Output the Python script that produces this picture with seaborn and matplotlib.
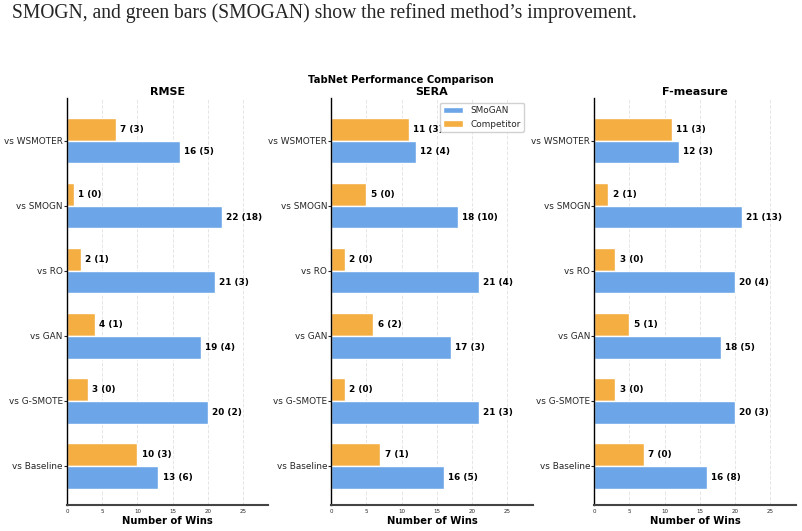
import pandas as pd
import numpy as np
import matplotlib
matplotlib.use('Agg')
import matplotlib.pyplot as plt
import seaborn as sns

opponents = ['vs WSMOTER', 'vs SMOGN', 'vs RO', 'vs GAN', 'vs G-SMOTE', 'vs Baseline']
metrics = ['RMSE', 'SERA', 'F-measure']

# wins (significant wins in brackets)
rmse_smogan = [16, 22, 21, 19, 20, 13]
rmse_smogan_sig = [5, 18, 3, 4, 2, 6]
rmse_comp = [7, 1, 2, 4, 3, 10]
rmse_comp_sig = [3, 0, 1, 1, 0, 3]

sera_smogan = [12, 18, 21, 17, 21, 16]
sera_smogan_sig = [4, 10, 4, 3, 3, 5]
sera_comp = [11, 5, 2, 6, 2, 7]
sera_comp_sig = [3, 0, 0, 2, 0, 1]

fm_smogan = [12, 21, 20, 18, 20, 16]
fm_smogan_sig = [3, 13, 4, 5, 3, 8]
fm_comp = [11, 2, 3, 5, 3, 7]
fm_comp_sig = [3, 1, 0, 1, 0, 0]

BLUE = '#6ca6e8'
ORANGE = '#f4ae42'

def make_df(smogan, smogan_sig, comp, comp_sig):
    rows = []
    for i, opp in enumerate(opponents):
        rows.append({'opp': opp, 'method': 'Competitor', 'wins': comp[i], 'sig': comp_sig[i]})
        rows.append({'opp': opp, 'method': 'SMoGAN', 'wins': smogan[i], 'sig': smogan_sig[i]})
    return pd.DataFrame(rows)

tables = [
    make_df(rmse_smogan, rmse_smogan_sig, rmse_comp, rmse_comp_sig),
    make_df(sera_smogan, sera_smogan_sig, sera_comp, sera_comp_sig),
    make_df(fm_smogan, fm_smogan_sig, fm_comp, fm_comp_sig),
]
xmax = max(max(t['wins']) for t in tables) * 1.3

sns.set_style('white')
plt.rcParams['font.family'] = ['DejaVu Sans']

fig = plt.figure(figsize=(8.02, 5.31), dpi=100)
lefts = [0.0835, 0.413, 0.741]
axes = [fig.add_axes([l, 0.049, 0.251, 0.766]) for l in lefts]

for ax, df, name in zip(axes, tables, metrics):
    sns.barplot(data=df, y='opp', x='wins', hue='method', orient='h',
                hue_order=['Competitor', 'SMoGAN'],
                palette={'Competitor': ORANGE, 'SMoGAN': BLUE},
                width=0.7, saturation=1, ax=ax, legend=(name == 'SERA'))
    # value labels
    for cont, method in zip(ax.containers, ['Competitor', 'SMoGAN']):
        sub = df[df['method'] == method]
        labels = [f'{w} ({s})' for w, s in zip(sub['wins'], sub['sig'])]
        ax.bar_label(cont, labels=labels, padding=3, fontsize=6.4,
                     fontweight='bold', color='black')
    ax.set_xlim(0, xmax)
    ax.set_ylim(5.6, -0.65)
    ax.set_title(name, fontsize=8, fontweight='bold', pad=2, color='black')
    ax.set_xlabel('Number of Wins', fontsize=7.2, fontweight='bold', labelpad=1, color='black')
    ax.set_ylabel('')
    ax.set_xticks([0, 5, 10, 15, 20, 25])
    ax.tick_params(axis='x', labelsize=4, length=2, pad=1)
    ax.tick_params(axis='y', labelsize=6.4, length=2, left=True, pad=1)
    ax.grid(axis='x', linestyle='--', color='#d5d5d5', alpha=0.6, linewidth=0.7)
    ax.set_axisbelow(True)
    sns.despine(ax=ax, top=True, right=True)
    ax.spines['left'].set_color('black')
    ax.spines['left'].set_linewidth(1.0)
    ax.spines['bottom'].set_color('#444444')
    ax.spines['bottom'].set_linewidth(1.5)

leg_ax = axes[1]
handles, labels = leg_ax.get_legend_handles_labels()
order = [labels.index('SMoGAN'), labels.index('Competitor')]
leg_ax.legend([handles[i] for i in order], [labels[i] for i in order],
              loc='upper right', fontsize=6.4, frameon=True, framealpha=0.9,
              borderpad=0.4, handlelength=2.2, bbox_to_anchor=(0.98, 1.0))

fig.text(0.5, 0.849, 'TabNet Performance Comparison', ha='center', va='center',
         fontsize=7.2, fontweight='bold', color='black')
fig.text(0.015, 0.976, 'SMOGN, and green bars (SMOGAN) show the refined method\u2019s improvement.',
         ha='left', va='center', fontsize=14.1, family=['Liberation Serif', 'DejaVu Serif'])

fig.savefig('out.png', dpi=100)
